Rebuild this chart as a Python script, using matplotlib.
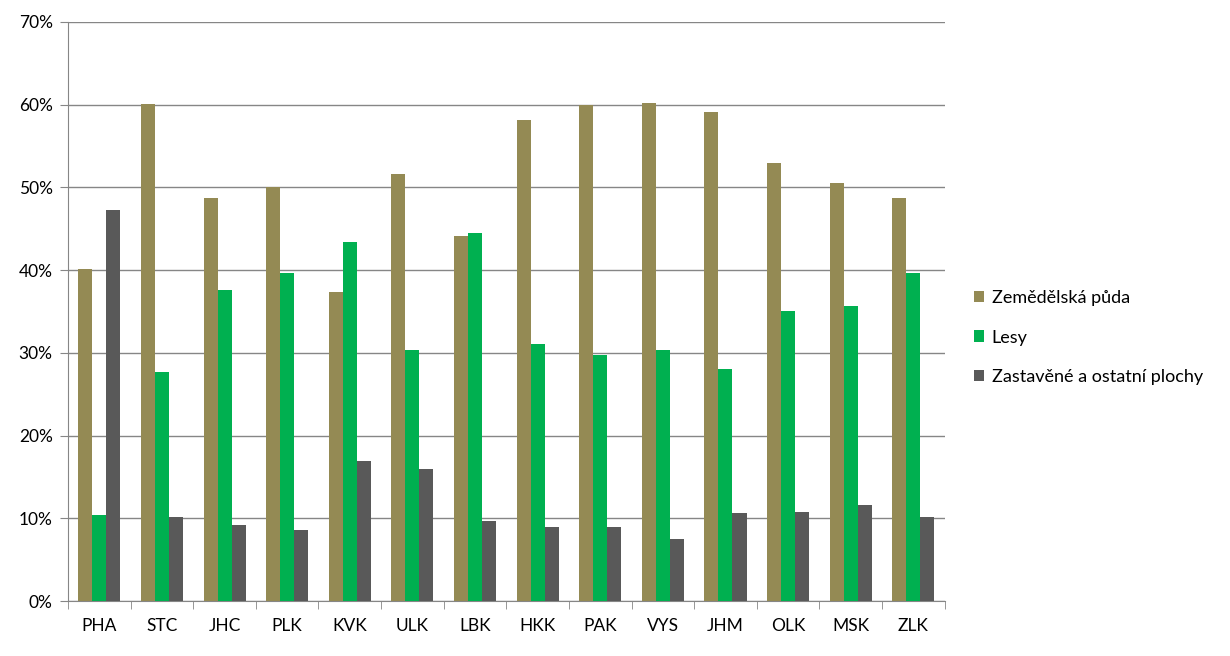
import numpy as np
import matplotlib.pyplot as plt
from matplotlib.ticker import PercentFormatter

# kraje
kraje = ['PHA', 'STC', 'JHC', 'PLK', 'KVK', 'ULK', 'LBK', 'HKK', 'PAK', 'VYS', 'JHM', 'OLK', 'MSK', 'ZLK']

# podil ploch v % (odhad z grafu)
zemedelska = [40.1, 60.1, 48.7, 50.0, 37.4, 51.6, 44.1, 58.2, 60.0, 60.2, 59.1, 52.9, 50.5, 48.7]
lesy = [10.4, 27.7, 37.6, 39.7, 43.4, 30.4, 44.5, 31.1, 29.7, 30.4, 28.0, 35.1, 35.7, 39.7]
zastavene = [47.3, 10.2, 9.2, 8.6, 16.9, 16.0, 9.7, 9.0, 8.9, 7.5, 10.7, 10.8, 11.6, 10.2]

plt.rcParams['font.family'] = ['Lato', 'DejaVu Sans']

fig = plt.figure(figsize=(12.3, 6.56), dpi=100)
ax = fig.add_axes([0.0553, 0.0838, 0.7127, 0.8827])

x = np.arange(len(kraje))
w = 0.224
ax.bar(x - w, zemedelska, w, color='#948A54', label='Zemědělská půda', zorder=3)
ax.bar(x, lesy, w, color='#00B050', label='Lesy', zorder=3)
ax.bar(x + w, zastavene, w, color='#595959', label='Zastavěné a ostatní plochy', zorder=3)

ax.set_xlim(-0.5, len(kraje) - 0.5)
ax.set_ylim(0, 70)
ax.set_yticks(range(0, 71, 10))
ax.yaxis.set_major_formatter(PercentFormatter(decimals=0))
ax.grid(axis='y', color='#868686', linewidth=1, zorder=0)

ax.set_xticks(x)
ax.set_xticklabels(kraje)
ax.set_xticks(np.arange(-0.5, len(kraje)), minor=True)
ax.tick_params(axis='x', which='major', length=0, pad=12, labelsize=12.5)
ax.tick_params(axis='x', which='minor', length=6, color='#868686')
ax.tick_params(axis='y', length=6, color='#868686', labelsize=12.5, pad=5)

for s in ['top', 'right']:
    ax.spines[s].set_visible(False)
for s in ['left', 'bottom']:
    ax.spines[s].set_color('#868686')

ax.legend(loc='center left', bbox_to_anchor=(1.0, 0.455), frameon=False,
          fontsize=13, handlelength=0.6, handleheight=0.6,
          handletextpad=0.4, labelspacing=1.3, borderaxespad=1.2)

fig.savefig('out.png', dpi=100)
